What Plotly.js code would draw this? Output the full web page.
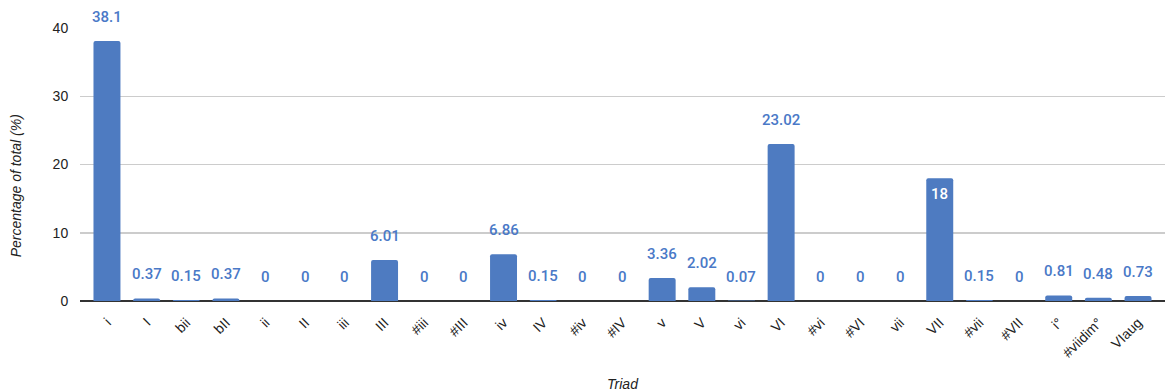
<!DOCTYPE html>
<html>
<head>
<meta charset="utf-8">
<script src="https://cdn.plot.ly/plotly-3.0.1.min.js"></script>
<style>
  html, body { margin: 0; padding: 0; background: #fff; }
  #chart { width: 1167px; height: 392px; }
</style>
</head>
<body>
<div id="chart"></div>
<script>
// Triad labels along the x axis
const triads = ['i', 'I', 'bii', 'bII', 'ii', 'II', 'iii', 'III', '#iii', '#III',
  'iv', 'IV', '#iv', '#IV', 'v', 'V', 'vi', 'VI', '#vi', '#VI',
  'vii', 'VII', '#vii', '#VII', 'i°', '#viidim°', 'VIaug'];

// Share of all triads, in percent
const percentages = [38.1, 0.37, 0.15, 0.37, 0, 0, 0, 6.01, 0, 0,
  6.86, 0.15, 0, 0, 3.36, 2.02, 0.07, 23.02, 0, 0,
  0, 18, 0.15, 0, 0.81, 0.48, 0.73];

// Y axis ticks
const yTicks = [0, 10, 20, 30, 40];

// Value labels drawn inside the bar instead of above it
const insideLabels = ['VII'];

const barColor = '#4e7bc1';
const labelColor = '#4a79c7';
const axisFont = '"Liberation Sans", Arial, Helvetica, sans-serif';
const valueFont = 'Roboto, Arial, sans-serif';

const valueLabels = triads.map((t, i) => {
  const inside = insideLabels.includes(t);
  return {
    x: t,
    y: percentages[i],
    xref: 'x',
    yref: 'y',
    text: String(percentages[i]),
    showarrow: false,
    yanchor: 'middle',
    yshift: inside ? -16 : 24,
    font: {
      family: valueFont,
      size: 15,
      weight: 500,
      color: inside ? '#ffffff' : labelColor
    }
  };
});

// Vertical axis title, placed left of the tick labels
const yTitle = {
  text: '<i>Percentage of total (%)</i>',
  xref: 'paper',
  yref: 'paper',
  x: 0,
  y: 0.42,
  xanchor: 'center',
  yanchor: 'middle',
  xshift: -64,
  textangle: -90,
  showarrow: false,
  font: { family: axisFont, size: 14, color: '#222222' }
};

const trace = {
  type: 'bar',
  x: triads,
  y: percentages,
  width: 0.68,
  marker: { color: barColor, cornerradius: 2 },
  hoverinfo: 'x+y'
};

const layout = {
  width: 1167,
  height: 392,
  margin: { l: 80, r: 2, t: 28, b: 91 },
  paper_bgcolor: '#ffffff',
  plot_bgcolor: '#ffffff',
  showlegend: false,
  font: { family: axisFont, color: '#222222' },
  xaxis: {
    type: 'category',
    range: [-0.68, 26.68],
    tickangle: -45,
    tickfont: { family: axisFont, size: 14, color: '#222222' },
    showgrid: false,
    showline: false,
    // invisible ticks keep a gap between the baseline and the labels
    ticks: 'outside',
    ticklen: 7,
    tickcolor: 'rgba(0,0,0,0)',
    title: {
      text: '<i>Triad</i>',
      font: { family: axisFont, size: 14, color: '#222222' },
      standoff: 26
    },
    automargin: false
  },
  yaxis: {
    range: [0, 40],
    tickvals: yTicks,
    tickfont: { family: axisFont, size: 14, color: '#222222' },
    showgrid: true,
    gridcolor: '#cccccc',
    gridwidth: 1.5,
    zeroline: true,
    zerolinecolor: '#333333',
    zerolinewidth: 1.5,
    ticks: 'outside',
    ticklen: 8,
    tickcolor: 'rgba(0,0,0,0)',
    automargin: false
  },
  annotations: valueLabels.concat([yTitle])
};

Plotly.newPlot('chart', [trace], layout, { displayModeBar: false, staticPlot: true });
</script>
</body>
</html>
